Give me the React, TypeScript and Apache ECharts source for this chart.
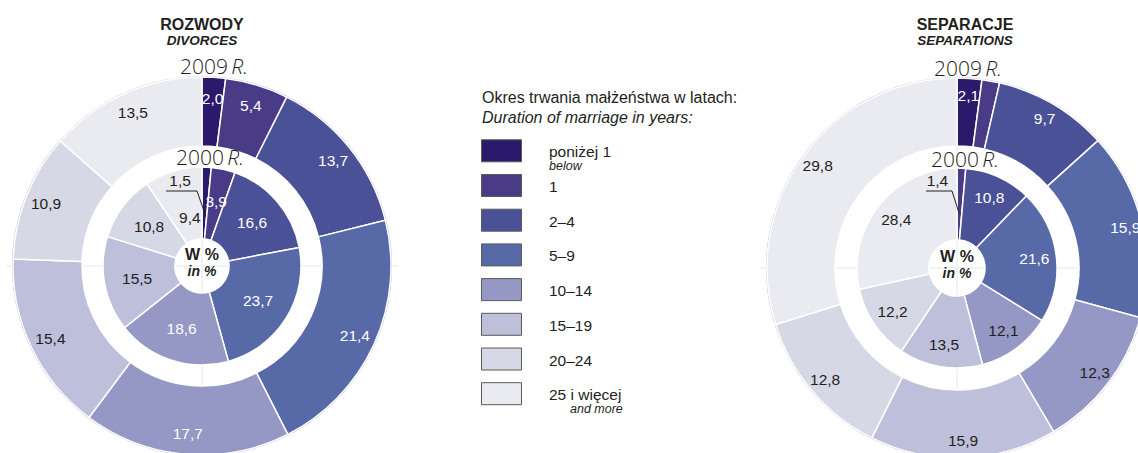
import React, { useEffect, useRef } from "react";
import * as echarts from "echarts";

const categories = ["poniżej 1", "1", "2–4", "5–9", "10–14", "15–19", "20–24", "25 i więcej"];
const subLabels = ["below", "", "", "", "", "", "", "and more"];
const divorces2009 = [2.0, 5.4, 13.7, 21.4, 17.7, 15.4, 10.9, 13.5];
const divorces2000 = [1.5, 3.9, 16.6, 23.7, 18.6, 15.5, 10.8, 9.4];
const separations2009 = [2.1, 1.5, 9.7, 15.9, 12.3, 15.9, 12.8, 29.8];
const separations2000 = [0, 1.4, 10.8, 21.6, 12.1, 13.5, 12.2, 28.4];

const colors = ["#2b1a6b", "#4a3b87", "#4a5196", "#5869a8", "#9597c4", "#bdbfdb", "#d7d8e6", "#eaebf0"];
const W = "#ffffff";
const D = "#231f20";
const divOuterLabelColors = [W, W, W, W, W, D, D, D];
const divInnerLabelColors = [D, W, W, W, W, D, D, D];
const sepOuterLabelColors = [W, W, W, W, D, D, D, D];
const sepInnerLabelColors = [D, D, W, W, D, D, D, D];

const FONT = "Liberation Sans, Arial, sans-serif";
const fmt = (v: number) => v.toFixed(1).replace(".", ",");

function buildData(values: number[], labelColors: string[], transparent: boolean, offsets: Record<number, number[]> = {}) {
  const out: any[] = [];
  values.forEach((v, i) => {
    if (v <= 0) return;
    const item: any = {
      name: categories[i],
      value: v,
      itemStyle: transparent
        ? { color: "rgba(0,0,0,0)", borderWidth: 0 }
        : { color: colors[i] },
    };
    if (transparent) {
      item.label = { color: labelColors[i] };
      if (offsets[i]) item.label.offset = offsets[i];
    }
    out.push(item);
  });
  return out;
}

function ringSeries(center: number[], radius: number[], values: number[], z: number) {
  return {
    type: "pie",
    center,
    radius,
    startAngle: 90,
    clockwise: true,
    silent: true,
    avoidLabelOverlap: false,
    label: { show: false },
    labelLine: { show: false },
    emphasis: { disabled: true },
    itemStyle: { borderColor: "#ffffff", borderWidth: 1.5 },
    data: buildData(values, [], false),
    z,
  };
}

function labelSeries(center: number[], radius: number[], values: number[], labelColors: string[], offsets: Record<number, number[]> = {}) {
  return {
    type: "pie",
    center,
    radius,
    startAngle: 90,
    clockwise: true,
    silent: true,
    avoidLabelOverlap: false,
    label: {
      show: true,
      position: "inside",
      formatter: (p: any) => fmt(p.value),
      fontSize: 15.5,
      fontFamily: FONT,
    },
    labelLine: { show: false },
    emphasis: { disabled: true },
    data: buildData(values, labelColors, true, offsets),
    z: 5,
  };
}

function edgeSeries(center: number[], r: number) {
  return {
    type: "pie",
    center,
    radius: [r - 0.5, r + 1],
    silent: true,
    label: { show: false },
    labelLine: { show: false },
    emphasis: { disabled: true },
    itemStyle: { color: "#b3b5d8" },
    data: [{ value: 1, name: "edge" }],
    z: 1,
  };
}

export default function App() {
  const ref = useRef<HTMLDivElement>(null);
  useEffect(() => {
    if (!ref.current) return;
    const chart = echarts.init(ref.current, null, { renderer: "svg" });
    const cL = [202, 266];
    const cR = [957, 268];
    const outerL = 189;
    const outerR = 190;

    const yearText = (x: number, y: number, year: string) => ({
      type: "text",
      x,
      y,
      z: 20,
      style: {
        text: `{n|${year}} {r|R.}`,
        textAlign: "center",
        textVerticalAlign: "middle",
        rich: {
          n: { fontFamily: "Open Sans, sans-serif", fontWeight: 300, fontSize: 21, fill: D },
          r: { fontFamily: "Open Sans, sans-serif", fontWeight: 300, fontStyle: "italic", fontSize: 21, fill: D },
        },
      },
    });

    const centerText = (c: number[]) => [
      { type: "text", x: c[0], y: c[1] - 12, z: 20, style: { text: "W %", font: `bold 16px ${FONT}`, fill: D, textAlign: "center", textVerticalAlign: "middle" } },
      { type: "text", x: c[0], y: c[1] + 5, z: 20, style: { text: "in %", font: `italic bold 14px ${FONT}`, fill: D, textAlign: "center", textVerticalAlign: "middle" } },
    ];

    const crossLines = (c: number[], r: number) => [
      { type: "line", z: 0, shape: { x1: c[0] - r, y1: c[1], x2: c[0] + r, y2: c[1] }, style: { stroke: "#e6e6ef", lineWidth: 1 } },
      { type: "line", z: 0, shape: { x1: c[0], y1: c[1] - r, x2: c[0], y2: c[1] + r }, style: { stroke: "#e6e6ef", lineWidth: 1 } },
    ];

    const legendItems: any[] = [];
    categories.forEach((name, i) => {
      const top = 139.3 + i * 34.7;
      legendItems.push({
        type: "rect",
        shape: { x: 481.5, y: top + 0.5, width: 40, height: 22 },
        style: { fill: colors[i], stroke: "#5a5a5a", lineWidth: 1 },
      });
      legendItems.push({
        type: "text",
        x: 549,
        y: top + 12.5,
        style: { text: name, font: `15.5px ${FONT}`, fill: D, textVerticalAlign: "middle" },
      });
      if (subLabels[i]) {
        legendItems.push({
          type: "text",
          x: i === 0 ? 549 : 570,
          y: top + 27,
          style: { text: subLabels[i], font: `italic 12.5px ${FONT}`, fill: D, textVerticalAlign: "middle" },
        });
      }
    });

    const leader = (c: number[], pts: number[][]) => ({
      type: "polyline",
      z: 20,
      shape: { points: pts.map((p) => [c[0] + p[0], c[1] + p[1]]) },
      style: { stroke: D, lineWidth: 1, fill: null },
    });

    chart.setOption({
      animation: false,
      backgroundColor: "#ffffff",
      series: [
        edgeSeries(cL, outerL),
        ringSeries(cL, [120, outerL], divorces2009, 2),
        ringSeries(cL, [27, 99], divorces2000, 2),
        labelSeries(cL, [141, outerL], divorces2009, divOuterLabelColors),
        labelSeries(cL, [27, 99], divorces2000, divInnerLabelColors, { 0: [-25, -20], 7: [7, 15] }),
        edgeSeries(cR, outerR),
        ringSeries(cR, [122, outerR], separations2009, 2),
        ringSeries(cR, [28, 100], separations2000, 2),
        labelSeries(cR, [150, outerR], separations2009, sepOuterLabelColors),
        labelSeries(cR, [50, 100], separations2000, sepInnerLabelColors, { 1: [-23, -10] }),
      ],
      graphic: [
        ...crossLines(cL, 196),
        ...crossLines(cR, 196),
        { type: "text", x: 202, y: 24, style: { text: "ROZWODY", font: `bold 16px ${FONT}`, fill: D, textAlign: "center", textVerticalAlign: "middle" } },
        { type: "text", x: 202, y: 40, style: { text: "DIVORCES", font: `italic bold 13.5px ${FONT}`, fill: D, textAlign: "center", textVerticalAlign: "middle" } },
        { type: "text", x: 965, y: 24, style: { text: "SEPARACJE", font: `bold 16px ${FONT}`, fill: D, textAlign: "center", textVerticalAlign: "middle" } },
        { type: "text", x: 965, y: 40, style: { text: "SEPARATIONS", font: `italic bold 13.5px ${FONT}`, fill: D, textAlign: "center", textVerticalAlign: "middle" } },
        yearText(214, 66, "2009"),
        yearText(210, 157, "2000"),
        yearText(968, 68, "2009"),
        yearText(965, 159, "2000"),
        ...centerText(cL),
        ...centerText(cR),
        leader(cL, [[-36, -75], [-5, -75], [3, -52]]),
        leader(cR, [[-31, -77], [-5, -77], [2, -55]]),
        { type: "text", x: 482, y: 97, style: { text: "Okres trwania małżeństwa w latach:", font: `16px ${FONT}`, fill: D, textVerticalAlign: "middle" } },
        { type: "text", x: 482, y: 117, style: { text: "Duration of marriage in years:", font: `italic 16px ${FONT}`, fill: D, textVerticalAlign: "middle" } },
        ...legendItems,
      ],
    });
    return () => chart.dispose();
  }, []);
  return <div ref={ref} style={{ position: "absolute", left: 0, top: 0, width: 1138, height: 453 }} />;
}
